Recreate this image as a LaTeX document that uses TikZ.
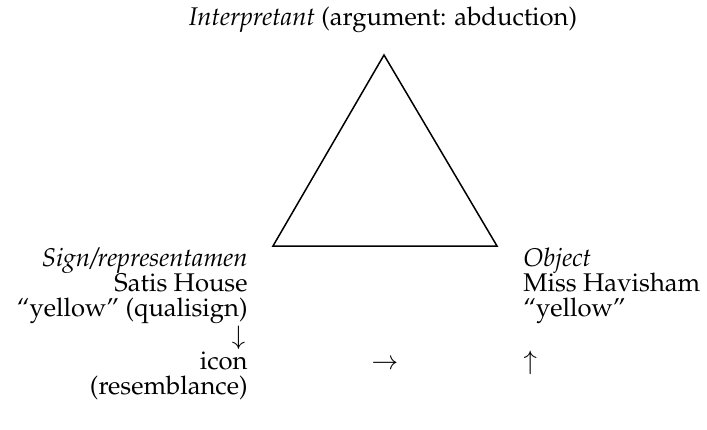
\documentclass[tikz,border=0pt]{standalone}
\usepackage[T1]{fontenc}
\usepackage{mathpazo}
\begin{document}
\begin{tikzpicture}[x=0.5pt,y=-0.5pt,
  lbl/.style={inner sep=0pt,font=\fontsize{12.8}{15.4}\selectfont},
  lft/.style={lbl,anchor=base east},
  rgt/.style={lbl,anchor=base west},
  tri/.style={draw,line width=0.75pt,line join=miter}]
\useasboundingbox (0,0) rectangle (707,429);
\coordinate (apex) at (384,55);
\coordinate (bl) at (273,246);
\coordinate (br) at (497,246);
\draw[tri] (apex) -- (bl) -- (br) -- cycle;
\node[lbl,anchor=base] (interp) at (383,25) {\textit{Interpretant} (argument: abduction)};
\node[lft] (sign) at (248,266) {\textit{Sign/representamen}};
\node[lft] (satis) at (248,291) {Satis House};
\node[lft] (qual) at (248,316) {``yellow'' (qualisign)};
\node[lft] (down) at (246,344) {$\downarrow$};
\node[lft] (icon) at (248,369) {icon};
\node[lft] (resem) at (248,394) {(resemblance)};
\node[rgt] (obj) at (523,266) {\textit{Object}};
\node[rgt] (miss) at (523,291) {Miss Havisham};
\node[rgt] (yel) at (523,316) {``yellow''};
\node[lbl,anchor=base] (right) at (385,369) {$\rightarrow$};
\node[rgt] (up) at (523,369) {$\uparrow$};
\end{tikzpicture}
\end{document}
